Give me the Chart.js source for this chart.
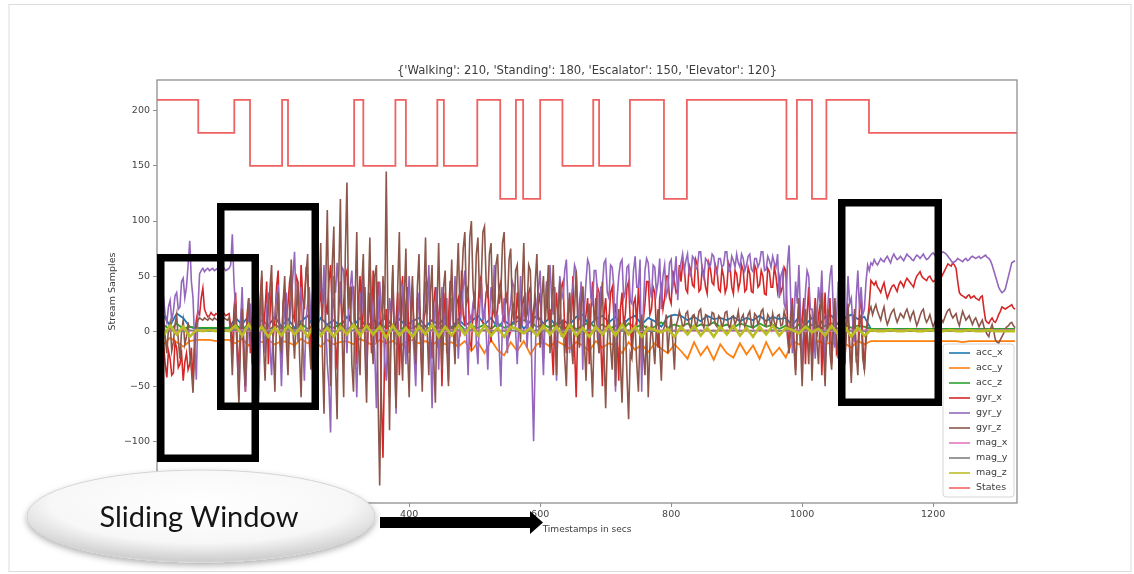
<!DOCTYPE html>
<html>
<head>
<meta charset="utf-8">
<script src="https://cdn.jsdelivr.net/npm/chart.js@4.4.1/dist/chart.umd.min.js"></script>
<style>
    html, body { margin: 0; padding: 0; background: #fff; }
    #wrap { position: relative; width: 1134px; height: 574px; overflow: hidden; }
    #chart-box { position: absolute; left: 0; top: 0; width: 1134px; height: 574px; }
    #sensor-chart { filter: blur(0.35px); }
    #overlay { position: absolute; left: 0; top: 0; }
</style>
</head>
<body>
<div id="wrap">
    <div id="chart-box"><canvas id="sensor-chart"></canvas></div>
    <svg id="overlay" width="1134" height="574">
        <defs>
            <radialGradient id="pill" cx="50%" cy="36%" r="62%">
                <stop offset="0%" stop-color="#ffffff"/>
                <stop offset="70%" stop-color="#f7f7f7"/>
                <stop offset="100%" stop-color="#cfcfcf"/>
            </radialGradient>
            <filter id="shadow" x="-10%" y="-20%" width="120%" height="150%">
                <feDropShadow dx="0" dy="3" stdDeviation="3" flood-color="#000" flood-opacity="0.3"/>
            </filter>
            <filter id="soft"><feGaussianBlur stdDeviation="0.8"/></filter>
        </defs>
        <!-- slide frame -->
        <rect x="9" y="4.5" width="1122" height="567" fill="none" stroke="#dcdcdc" stroke-width="1"/>
        <line x1="9.5" y1="5" x2="9.5" y2="572" stroke="#9c9c9c" stroke-width="2.5" filter="url(#soft)"/>
        <line x1="9" y1="571.5" x2="1131" y2="571.5" stroke="#a4a4a4" stroke-width="2.5" filter="url(#soft)"/>
        <!-- window boxes -->
        <g fill="none" stroke="#000" stroke-width="7.5">
            <rect x="160.75" y="257.75" width="94.5" height="200.5"/>
            <rect x="220.75" y="206.75" width="94.5" height="199.5"/>
            <rect x="841.75" y="202.75" width="96.5" height="199.5"/>
        </g>
        <!-- arrow -->
        <polygon points="380,517 530,517 530,511 543,522.5 530,534 530,528 380,528" fill="#000"/>
        <!-- sliding window pill -->
        <ellipse cx="201" cy="516" rx="174" ry="46" fill="url(#pill)" stroke="#d4d4d4" stroke-width="1" filter="url(#shadow)"/>
        <text x="199" y="527" text-anchor="middle" font-family="Lato" font-size="29" fill="#151515">Sliding Window</text>
    </svg>
</div>
<script>
/// -------------- DATA --------------- ///

const chartTitle = "{'Walking': 210, 'Standing': 180, 'Escalator': 150, 'Elevator': 120}";
const xTicks = [200, 400, 600, 800, 1000, 1200];
const yTicks = [-100, -50, 0, 50, 100, 150, 200];

const seriesNames = ["acc_x", "acc_y", "acc_z", "gyr_x", "gyr_y", "gyr_z", "mag_x", "mag_y", "mag_z", "States"];
const seriesColors = ["#1f77b4", "#ff7f0e", "#2ca02c", "#d62728", "#9467bd", "#8c564b", "#e377c2", "#7f7f7f", "#bcbd22", "#f06262"];

// gyro streams, one value every 2.5 s from t = 15 (20 values per line = 50 s)
const gyroStart = 15;
const gyroStep = 2.5;

const gyrX = [
    -20, -8, -35, -22, -12, -30, -42, -18, -25, -40, -38, -10, -15, -33, -30, -20, -45, -28, -20, -35,
    -30, -15, -48, -5, 10, 18, 15, 30, 39, 20, 16, 13, 14, 17, 15, 14, 16, 15, 14, 16,
    15, 16, 14, 15, 16, 5, -20, 20, 35, -10, -40, 10, 25, -30, -55, 15, 30, -20, 5, 35,
    40, 5, -15, 30, 50, 0, 20, 45, -30, 15, 45, -5, 10, 40, 55, -10, -25, 25, 35, 10,
    25, 45, 55, 15, 10, 50, 45, 5, 60, 30, 20, 55, 50, 10, -20, 35, 40, 15, 58, 25,
    35, 10, 50, 25, 15, 45, 60, 20, 30, -10, -35, 20, 45, 5, 25, 50, 55, 15, 10, 40,
    40, 10, -30, 25, 50, 0, 20, 40, -45, 10, 35, -20, 55, 15, -10, 45, 30, -60, -115, -20,
    20, -30, -60, 15, 45, -10, 10, 35, -40, 5, 50, -15, 25, 40, -20, 10, 40, -5, -35, 30,
    30, -10, -45, 10, 20, 40, 50, -5, -25, 25, 40, -15, 15, 30, -50, 5, 35, -20, 10, 45,
    45, 10, -20, 25, 30, -5, 55, 15, 5, 35, 40, -10, -15, 20, 35, 0, 20, 45, 50, 10,
    15, 35, 40, 5, -10, 25, 35, 10, 20, 40, 45, 15, 10, 35, 30, -5, 0, 20, 25, 5,
    35, 15, 5, 25, 30, 10, 15, 35, 40, 5, 20, 30, 10, 25, 35, 0, -25, 20, 45, 10,
    20, -10, -40, 15, 35, 5, 10, 40, 45, 0, -20, 25, 30, 10, 50, -15, -60, 5, 25, 40,
    40, 5, 15, 30, -30, 20, 45, 10, 20, 40, 35, -10, -50, 15, 30, 0, 10, 35, 40, 15,
    25, -5, -45, 20, 35, 5, 15, 40, 45, 10, -20, 25, 30, 5, 40, 15, -35, 10, 25, 45,
    45, 15, 20, 40, 35, 0, -15, 30, 40, 20, 30, 50, 50, 30, 25, 55, 45, 35, 38, 60,
    45, 62, 58, 38, 35, 60, 55, 42, 40, 65, 60, 36, 38, 58, 52, 40, 34, 62, 56, 44,
    42, 60, 55, 38, 36, 57, 50, 35, 40, 62, 58, 40, 34, 55, 52, 38, 44, 60, 55, 36,
    38, 58, 52, 36, 35, 60, 56, 40, 42, 55, 50, 34, 33, 57, 54, 40, 40, 58, 50, 36,
    48, 35, 40, 58, 55, 10, -20, 15, 30, -10, -35, 5, 25, -15, 10, 30, -30, 15, 40, -5,
    -25, 10, 30, -5, 15, 25, -40, 5, 35, -10, 10, 30, -30, 0, 25, -20, -15, 20, 40, 5,
    -30, 5, 20, -15, -38, 10, 15, -25, -20, 20, 30, -10, -35, 0, 10, 25, 46, 44, 42, 45,
    40, 38, 35, 40, 44, 36, 30, 34, 38, 41, 42, 39, 36, 42, 45, 43, 40, 45, 48, 46,
    44, 42, 40, 46, 50, 52, 54, 50, 48, 47, 46, 49, 50, 47, 45, 46, 47, 45, 44, 49,
    52, 55, 58, 61, 60, 59, 62, 60, 57, 45, 35, 33, 32, 31, 30, 32, 33, 30, 31, 32,
    30, 29, 28, 31, 32, 20, 10, 8, 7, 10, 12, 9, 8, 11, 15, 18, 22, 21, 20, 21,
    22, 23, 24, 21, 20
];

const gyrY = [
    25, 12, 14, 28, 30, 15, 8, 22, 28, 10, 18, 32, 35, 20, 22, 45, 48, 30, 40, 60,
    82, 45, 30, -10, -44, 20, 52, 55, 57, 54, 56, 57, 55, 56, 57, 55, 56, 57, 55, 56,
    56, 57, 55, 56, 57, 60, 88, 45, 20, -20, -62, 5, 40, -10, -55, -20, 10, 25, -30, 15,
    25, -20, -68, -10, 30, 5, -20, 20, 35, -15, -40, 10, 15, 30, 42, -5, -50, 0, 20, 35,
    -25, 10, 30, 50, 72, 20, -10, 25, 40, -5, -45, 10, 25, 40, 10, 30, 55, 20, -15, 35,
    45, 25, 60, 10, -30, -50, -92, 10, 50, 35, 62, 40, 30, 58, 55, 15, -20, 20, 40, 55,
    20, -15, -60, 5, 35, 15, 50, 0, -40, 25, 60, 30, 10, -20, -70, 10, 45, 20, 15, -25,
    -45, 0, 30, 15, 55, -10, -75, 5, 20, 45, 40, -5, -30, 20, 50, 15, 5, -20, -50, 10,
    35, 0, -20, 25, 45, 15, 60, -10, -70, 5, 25, 40, -35, 10, 40, -5, 15, 30, -45, 5,
    30, 10, 50, 15, -25, 5, 20, 40, 55, 0, -40, 15, 10, 25, 35, -10, -30, 20, 45, 10,
    20, 0, -35, 10, 40, 25, 60, 5, 15, -15, -50, 10, 30, 5, -20, 15, 25, 45, 40, 0,
    -30, 10, 50, 5, 20, 35, -15, 15, 35, -40, -100, -20, 25, 40, 55, 0, -40, 15, 45, 30,
    60, 30, 15, 40, -45, 20, 50, 35, 30, 55, 65, 25, -20, 30, 40, 60, 55, 20, 10, 45,
    -35, 20, 45, 65, 60, 30, 25, 55, 55, 35, -20, 40, 40, 62, 65, 35, 30, 60, 58, 40,
    -55, 30, 50, 62, 65, 30, 35, 58, 60, 28, 25, 55, 68, 40, 40, 65, -55, 20, 55, 66,
    62, 40, 30, 60, 58, 35, 45, 66, 20, 50, 60, 32, 38, 62, 65, 40, 50, 68, 28, 55,
    62, 70, 55, 64, 70, 52, 50, 68, 66, 56, 58, 72, 72, 54, 48, 66, 64, 58, 60, 70,
    68, 56, 52, 66, 66, 58, 60, 72, 72, 54, 55, 68, 64, 58, 70, 62, 58, 70, 66, 55,
    60, 68, 70, 56, 54, 66, 66, 58, 62, 72, 72, 55, 56, 68, 64, 58, 68, 62, 58, 70,
    30, 50, 55, 25, 20, 60, 78, 30, -20, 10, 45, 25, 60, 15, -30, 5, 35, 55, 50, 20,
    20, 0, -25, 15, 40, 25, 55, 10, -35, 5, 30, 50, 60, 20, -15, 10, 45, 30, 25, 50,
    -20, 10, 50, 25, 30, 5, -10, 30, 55, 20, 40, 15, 20, 45, 60, 55, 62, 60, 65, 62,
    60, 63, 66, 64, 63, 66, 68, 65, 62, 67, 70, 67, 65, 66, 68, 66, 64, 67, 70, 68,
    67, 65, 64, 67, 69, 68, 66, 68, 70, 67, 65, 66, 68, 70, 71, 69, 67, 70, 72, 71,
    72, 71, 70, 68, 66, 64, 62, 63, 64, 66, 65, 64, 63, 65, 66, 64, 65, 67, 68, 67,
    66, 67, 68, 66, 67, 68, 69, 67, 66, 64, 60, 55, 50, 45, 40, 37, 35, 36, 38, 44,
    50, 56, 62, 63, 64
];

const gyrZ = [
    5, -8, -15, 4, 12, -5, -20, 2, 8, -18, -10, 6, 15, -8, -25, 0, 10, -12, -5, 8,
    -20, -35, -56, -15, 5, 10, 12, 11, 10, 12, 11, 10, 12, 11, 10, 12, 11, 10, 12, 11,
    10, 12, 11, 10, 12, 0, -40, 5, 25, -20, -65, -10, 20, -15, -50, 5, 30, 0, -10, 25,
    40, 0, -30, 20, 55, -10, -45, 5, 20, 40, 60, -15, -55, 10, 35, -5, -20, 25, 50, -10,
    -40, 20, 65, 0, -25, 15, 45, -20, -60, 5, 30, 50, 70, -10, -35, 20, 50, -25, -70, 30,
    80, -20, -75, 40, 110, 10, -50, 60, 95, -30, -80, 50, 120, 0, -60, 70, 135, 20, 40, -30,
    -55, 30, 90, -10, -40, 40, 70, -20, -65, 30, 85, -5, -30, 50, 60, -60, -140, -20, 50, 10,
    145, 20, -90, 10, 60, -20, -70, 40, 90, -10, -45, 30, 75, -15, -60, 20, 50, -5, -30, 40,
    70, -10, -55, 30, 85, 0, -40, 35, 60, -25, -65, 20, 80, 10, -35, 40, 55, -15, -50, 25,
    65, 0, -30, 40, 80, 20, 40, 75, 90, 25, 30, 85, 100, 40, 20, 70, 85, 30, 45, 90,
    95, 45, 30, 70, 80, 20, 15, 60, 70, 25, 35, 80, 90, 30, 25, 65, 75, 20, 10, 55,
    60, 15, -10, 40, 80, 10, 20, 60, 55, 0, 5, 45, 70, 10, -15, 30, 50, 5, 30, 60,
    -20, 20, 60, 0, -40, 15, 45, -5, 10, -25, -50, 10, 35, -10, -30, 20, 55, 5, -15, 25,
    40, -10, -45, 5, 25, -25, -60, 0, 30, -5, -20, 15, 45, -20, -70, -10, 15, -15, -35, 10,
    -50, -10, 20, -30, -65, -5, 10, -40, -80, -20, -25, 0, 5, -30, -55, 0, 15, -20, -40, 5,
    -60, -15, 10, -10, -30, 5, 20, -15, -45, 0, 5, 15, -20, 0, 15, -10, -35, 5, 10, 18,
    12, 4, 5, 16, 18, 6, 2, 14, 15, 3, 8, 18, 20, 7, 3, 15, 14, 5, 6, 17,
    16, 6, 4, 14, 12, 3, 8, 17, 18, 5, 2, 13, 14, 6, 10, 18, 5, 12, 15, 4,
    8, 15, 18, 5, 3, 16, 14, 6, 10, 18, 20, 7, 5, 15, 12, 3, 16, 8, 4, 14,
    15, 5, 6, 18, 12, -5, -20, 10, 25, -15, -40, 5, 30, -10, -50, -5, 20, 0, -30, 15,
    -45, -5, 25, -10, -30, 15, 35, -15, -50, 0, 20, -20, -35, 10, 30, -5, -25, 15, 40, 0,
    -30, 0, 25, -15, -47, -5, 20, -20, -40, 5, 15, -25, -35, -10, 10, 18, 22, 15, 20, 24,
    18, 14, 10, 17, 22, 12, 6, 10, 15, 18, 20, 13, 8, 12, 16, 14, 12, 17, 20, 15,
    10, 15, 18, 11, 5, 9, 14, 18, 20, 12, 8, 11, 15, 9, 4, 8, 12, 15, 16, 11,
    8, 12, 16, 19, 20, 15, 12, 14, 16, 9, 5, 12, 18, 14, 10, 12, 14, 10, 6, 10,
    12, 8, 4, 7, 10, 4, 0, -3, -5, 2, 6, 0, -8, -10, -11, -8, -5, -2, 2, 4,
    5, 7, 8, 5, 3
];

// slower streams, one value every 10 s from t = 15
const slowStart = 15;
const slowStep = 10;

const accX = [
    8, 14, 5, 16, 12, 4, 2, 3, 2, 3,
    2, 3, 12, 6, 14, 3, 10, 5, 13, 4,
    11, 3, 9, 14, 2, 12, 6, 10, 4, 13,
    5, 12, 3, 10, 7, 14, 2, 11, 5, 9,
    12, 4, 10, 6, 13, 3, 11, 5, 9, 14,
    6, 12, 3, 10, 5, 13, 2, 9, 14, 7,
    12, 4, 10, 6, 13, 15, 5, 11, 14, 8,
    13, 5, 11, 14, 6, 12, 9, 4, 13, 15,
    14, 10, 13, 9, 14, 11, 12, 10, 13, 9,
    12, 10, 14, 9, 13, 11, 12, 5, 13, 6,
    12, 4, 13, 14, 6, 12, 15, 11, 13, 2,
    1, 1, 2, 1, 1, 2, 1, 1, 2, 1,
    1, 2, 1, 1, 2, 1, 1, 2, 1, 1,
    2, 1
];

const accY = [
    -8, -12, -6, -10, -14, -9, -8, -8, -8, -9,
    -8, -8, -11, -7, -13, -9, -10, -8, -12, -9,
    -10, -13, -7, -11, -9, -14, -8, -12, -10, -9,
    -12, -7, -10, -13, -8, -11, -9, -14, -10, -8,
    -11, -9, -13, -8, -12, -10, -14, -9, -18, -10,
    -20, -8, -17, -22, -10, -18, -9, -21, -12, -10,
    -14, -9, -12, -16, -10, -13, -18, -9, -15, -11,
    -13, -20, -10, -17, -12, -19, -11, -16, -20, -12,
    -18, -25, -10, -22, -14, -26, -12, -20, -24, -11,
    -21, -13, -25, -10, -22, -15, -24, -9, -12, -10,
    -13, -9, -12, -10, -14, -11, -15, -9, -12, -9,
    -9, -9, -9, -9, -9, -9, -9, -9, -9, -9,
    -9, -9, -9, -10, -9, -9, -9, -9, -9, -9,
    -9, -9
];

const accZ = [
    3, 6, 1, 7, 2, 4, 3, 3, 3, 3,
    3, 3, 6, 1, 7, 2, 5, 0, 6, 2,
    5, 1, 7, 2, 6, 0, 5, 3, 7, 1,
    6, 2, 5, 1, 7, 3, 6, 0, 5, 2,
    7, 1, 5, 3, 6, 2, 8, 1, 5, 3,
    6, 2, 7, 3, 5, 9, 10, 8, 4, 6,
    3, 7, 1, 6, 2, 5, 8, 3, 6, 2,
    5, 1, 7, 3, 6, 2, 4, 8, 3, 6,
    4, 7, 3, 6, 5, 8, 4, 6, 3, 7,
    5, 3, 7, 4, 6, 2, 5, 1, 6, 2,
    6, 1, 5, 7, 2, 6, 3, 5, 4, 2,
    2, 2, 2, 2, 2, 2, 2, 2, 2, 2,
    2, 2, 2, 2, 2, 2, 2, 2, 2, 2,
    2, 2
];

const magX = [
    1, 0, 1, 0, 1, 0, 1, 1, 1, 1,
    1, 1, 0, 1, 0, 1, 0, 1, 0, 1,
    0, 1, 0, 1, 0, 1, 0, 1, 0, 1,
    0, 1, 0, 1, 0, 1, 0, 1, 0, 1,
    0, 1, 0, 1, 0, 1, 0, 1, 0, 1,
    0, 1, 0, 1, 0, 1, 1, 1, 0, 1,
    0, 1, 0, 1, 0, 1, 0, 1, 0, 1,
    0, 1, 0, 1, 0, 1, 1, 1, 0, 1,
    0, 1, 0, 1, 0, 1, 0, 1, 0, 1,
    0, 1, 0, 1, 0, 1, 0, 1, 1, 0,
    1, 0, 1, 0, 1, 0, 1, 0, 1, 1,
    1, 1, 1, 1, 1, 1, 1, 1, 1, 1,
    1, 1, 1, 1, 1, 1, 1, 1, 1, 1,
    1, 1
];

const magY = [
    0, 1, 0, 1, 0, 1, 0, 0, 0, 0,
    0, 0, 1, 0, 1, 0, 1, 0, 1, 0,
    1, 0, 1, 0, 1, 0, 1, 0, 1, 0,
    1, 0, 1, 0, 1, 0, 1, 0, 1, 0,
    1, 0, 1, 0, 1, 0, 1, 0, 1, 0,
    1, 0, 1, 0, 1, 0, 0, 0, 1, 0,
    1, 0, 1, 0, 1, 0, 1, 0, 1, 0,
    1, 0, 1, 0, 1, 0, 0, 0, 1, 0,
    1, 0, 1, 0, 1, 0, 1, 0, 1, 0,
    1, 0, 1, 0, 1, 0, 1, 0, 0, 1,
    0, 1, 0, 1, 0, 1, 0, 1, 0, 0,
    0, 0, 0, 0, 0, 0, 0, 0, 0, 0,
    0, 0, 0, 0, 0, 0, 0, 0, 0, 0,
    0, 0
];

const magZ = [
    3, -4, 5, -3, 4, -5, 1, 0, 1, 0,
    1, 0, 5, -4, 6, -3, 4, -5, 3, -4,
    5, -3, 4, -5, 6, -4, 3, -5, 4, -3,
    6, -4, 5, -3, 4, -6, 5, -4, 3, -5,
    4, -3, 6, -5, 4, -4, 5, -3, 6, -4,
    5, -4, 3, -5, 4, 2, -2, 3, -4, 5,
    -3, 4, -5, 6, -4, 3, -5, 4, -3, 5,
    -4, 6, -3, 4, -5, 3, 1, -1, 2, -5,
    4, -3, 5, -4, 3, -5, 4, -3, 5, -4,
    3, -5, 4, -3, 5, -4, 3, 1, -2, 4,
    -1, 2, -4, 5, -3, 4, -5, 3, -4, 1,
    0, 0, 1, 0, 0, 1, 0, 0, 1, 0,
    0, 1, 0, 0, 1, 0, 0, 1, 0, 0,
    0, 0
];

// activity state, value holds until the next change
const stateTimes = [15, 78, 133, 157, 206, 215, 316, 330, 379, 395, 443, 453, 504, 539, 563, 574, 600, 634, 681, 690, 737, 789, 824, 976, 992, 1015, 1037, 1102, 1328];
const stateValues = [210, 180, 210, 150, 210, 150, 210, 150, 210, 150, 210, 150, 210, 120, 210, 120, 210, 150, 210, 150, 210, 120, 210, 120, 210, 120, 210, 180, 180];

/// -------------- CHART --------------- ///

function toPoints(times, values) {
    return values.map((v, i) => ({ x: times[i], y: v }));
}

const gyroTimes = gyrX.map((_, i) => gyroStart + i * gyroStep);
const slowTimes = accX.map((_, i) => slowStart + i * slowStep);

const seriesData = [
    toPoints(slowTimes, accX),
    toPoints(slowTimes, accY),
    toPoints(slowTimes, accZ),
    toPoints(gyroTimes, gyrX),
    toPoints(gyroTimes, gyrY),
    toPoints(gyroTimes, gyrZ),
    toPoints(slowTimes, magX),
    toPoints(slowTimes, magY),
    toPoints(slowTimes, magZ),
    toPoints(stateTimes, stateValues)
];

const lineWidths = [1.8, 1.8, 1.8, 1.6, 1.6, 1.6, 1.5, 1.5, 2.6, 1.8];

const datasets = seriesData.map((points, i) => ({
    label: seriesNames[i],
    data: points,
    borderColor: seriesColors[i],
    backgroundColor: seriesColors[i],
    borderWidth: lineWidths[i],
    pointRadius: 0,
    fill: false,
    tension: 0,
    stepped: i === 9 ? "before" : false,
    order: 10 - i
}));

const frameAndText = {
    id: "frameAndText",
    afterDatasetsDraw(chart) {
        const { ctx, chartArea: a } = chart;
        const cx = (a.left + a.right) / 2;

        ctx.save();
        ctx.strokeStyle = "#8f8f8f";
        ctx.lineWidth = 1.3;
        ctx.strokeRect(a.left, a.top, a.right - a.left, a.bottom - a.top);

        ctx.fillStyle = "#3c3c3c";
        ctx.textAlign = "center";
        ctx.textBaseline = "middle";
        ctx.font = '11.6px "DejaVu Sans"';
        ctx.fillText(chartTitle, cx, a.top - 9);

        ctx.font = '9px "DejaVu Sans"';
        ctx.fillText("Timestamps in secs", cx, a.bottom + 27);

        ctx.save();
        ctx.translate(a.left - 44, (a.top + a.bottom) / 2);
        ctx.rotate(-Math.PI / 2);
        ctx.font = '9.5px "DejaVu Sans"';
        ctx.fillText("Stream Samples", 0, 0);
        ctx.restore();

        // legend
        const lx = a.right - 74, ly = 344, lw = 71, lh = 153;
        ctx.fillStyle = "rgba(255,255,255,0.9)";
        ctx.strokeStyle = "#d6d6d6";
        ctx.lineWidth = 1;
        ctx.beginPath();
        ctx.roundRect(lx, ly, lw, lh, 3);
        ctx.fill();
        ctx.stroke();

        ctx.textAlign = "left";
        ctx.font = '9.5px "DejaVu Sans"';
        chart.data.datasets.forEach((ds, i) => {
            const y = ly + 9 + i * 15;
            ctx.strokeStyle = ds.borderColor;
            ctx.lineWidth = 1.6;
            ctx.beginPath();
            ctx.moveTo(lx + 6, y);
            ctx.lineTo(lx + 27, y);
            ctx.stroke();
            ctx.fillStyle = "#3c3c3c";
            ctx.fillText(ds.label, lx + 33, y);
        });
        ctx.restore();
    }
};

const tickFont = { family: "DejaVu Sans", size: 9.5 };

new Chart(document.getElementById("sensor-chart"), {
    type: "line",
    data: { datasets },
    options: {
        responsive: true,
        maintainAspectRatio: false,
        animation: false,
        events: [],
        layout: { padding: { left: 0, right: 117, top: 80, bottom: 0 } },
        plugins: {
            legend: { display: false },
            title: { display: false },
            tooltip: { enabled: false }
        },
        scales: {
            x: {
                type: "linear",
                min: 15,
                max: 1328,
                afterBuildTicks: s => { s.ticks = xTicks.map(v => ({ value: v })); },
                afterFit: s => { s.height = 71; },
                grid: { drawOnChartArea: false, drawTicks: true, tickLength: 4, color: "#8f8f8f" },
                border: { display: false },
                ticks: {
                    color: "#444",
                    font: tickFont,
                    padding: 2,
                    maxRotation: 0,
                    autoSkip: false,
                    callback: v => String(v)
                }
            },
            y: {
                min: -156,
                max: 228,
                afterBuildTicks: s => { s.ticks = yTicks.map(v => ({ value: v })); },
                afterFit: s => { s.width = 157; },
                grid: { drawOnChartArea: false, drawTicks: true, tickLength: 4, color: "#8f8f8f" },
                border: { display: false },
                ticks: {
                    color: "#444",
                    font: tickFont,
                    padding: 3,
                    callback: v => (v < 0 ? "\u2212" + Math.abs(v) : String(v))
                }
            }
        }
    },
    plugins: [frameAndText]
});
</script>
</body>
</html>
